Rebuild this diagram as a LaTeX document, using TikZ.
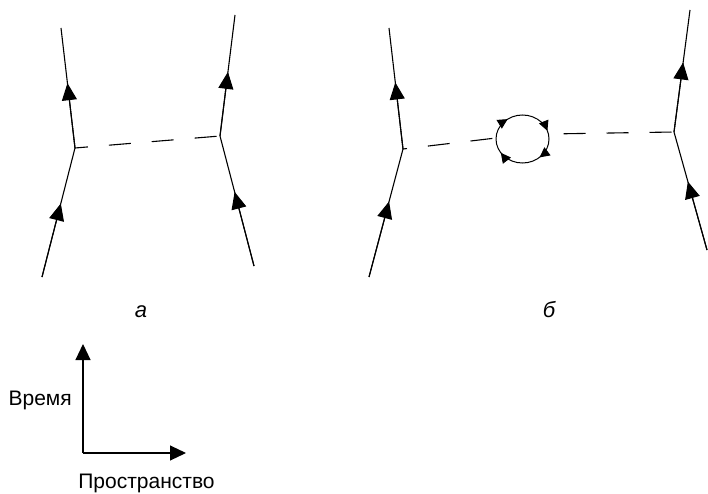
\documentclass[tikz,border=0pt]{standalone}
\usepackage{fontspec}
\setmainfont{Liberation Sans}
\usetikzlibrary{arrows.meta,calc}
\begin{document}
\begin{tikzpicture}[x=1pt,y=-1pt,
  wl/.style={line width=1.1pt},
  tipped/.style={wl, -{Triangle[length=17pt,width=15pt]}},
  photon/.style={wl, dash pattern=on 22pt off 21pt, dash phase=#1},
  lbl/.style={font=\fontsize{21}{25}\selectfont, inner sep=0pt},
  small/.style={line width=1pt, -{Triangle[length=10pt,width=10pt]}},
]
\useasboundingbox (0,0) rectangle (708,494);

% diagram a
\coordinate (aLt) at (61,28);
\coordinate (aLv) at (75,148);
\coordinate (aLb) at (42,277);
\coordinate (aRt) at (235,15);
\coordinate (aRv) at (220,136);
\coordinate (aRb) at (254,266);
\draw[wl] (aLb) -- (aLv) -- (aLt);
\draw[wl] (aRb) -- (aRv) -- (aRt);
\draw[tipped] (aLb) -- ($(aLb)!0.57!(aLv)$);
\draw[tipped] (aLv) -- ($(aLv)!0.54!(aLt)$);
\draw[tipped] (aRb) -- ($(aRb)!0.57!(aRv)$);
\draw[tipped] (aRv) -- ($(aRv)!0.53!(aRt)$);
\draw[photon=9pt] (aLv) -- (aRv);

% diagram b
\coordinate (bLt) at (389,28);
\coordinate (bLv) at (403,149);
\coordinate (bLb) at (369,277);
\coordinate (bRt) at (690,10);
\coordinate (bRv) at (674,132);
\coordinate (bRb) at (707,250);
\coordinate (c) at (522.5,139);
\coordinate (cL) at (496,138);
\coordinate (cR) at (548.5,134);
\draw[wl] (bLb) -- (bLv) -- (bLt);
\draw[wl] (bRb) -- (bRv) -- (bRt);
\draw[tipped] (bLb) -- ($(bLb)!0.59!(bLv)$);
\draw[tipped] (bLv) -- ($(bLv)!0.55!(bLt)$);
\draw[tipped] (bRb) -- ($(bRb)!0.58!(bRv)$);
\draw[tipped] (bRv) -- ($(bRv)!0.57!(bRt)$);
\draw[photon=18pt] (bLv) -- (cL);
\draw[photon=28pt] (cR) -- (bRv);
\draw[line width=1pt] (c) ellipse [x radius=26.5, y radius=24];
\foreach \a in {50,145,236,340}{
  \draw[small] ($(c)+(\a-20:26.5 and 24)$) arc[start angle=\a-20, end angle=\a, x radius=26.5, y radius=24];
}

% labels
\node[lbl, anchor=base, font=\fontsize{22}{26}\selectfont\itshape] (la) at (141,317) {а};
\node[lbl, anchor=base, font=\fontsize{22}{26}\selectfont\itshape] (lb) at (549,317) {б};

% axes
\coordinate (O) at (83,453);
\coordinate (T) at (83,344);
\coordinate (S) at (186,453);
\draw[wl, -{Triangle[length=16pt,width=15pt]}] (O) -- (T);
\draw[wl, -{Triangle[length=16pt,width=15pt]}] (O) -- (S);
\node[lbl, anchor=base east] (time) at (72,405) {Время};
\node[lbl, anchor=base] (space) at (146.5,488) {Пространство};
\end{tikzpicture}
\end{document}
